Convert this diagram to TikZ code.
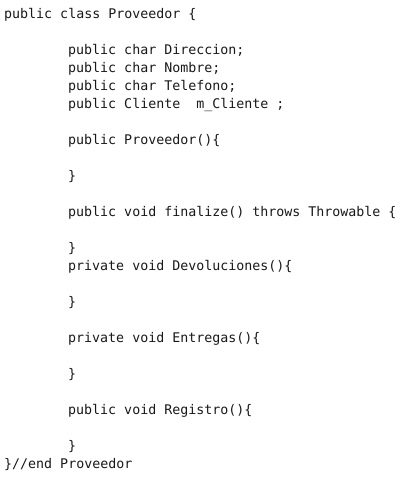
\documentclass[tikz,border=0pt]{standalone}
\usepackage{fontspec}
\setmonofont{DejaVu Sans Mono}
\begin{document}
\begin{tikzpicture}[x=1pt,y=1pt,
  code/.style={anchor=base west,inner sep=0pt,font=\ttfamily\fontsize{13.3}{16}\selectfont,text=black!90}]
\fill[white] (0,0) rectangle (408,-482);
\useasboundingbox (0,0) rectangle (408,-482);
\def\top{4}
\def\ind{68}
\node[code] (l0)  at (\top,-18) {public class Proveedor \{};
\node[code] (l2)  at (\ind,-54) {public char Direccion;};
\node[code] (l3)  at (\ind,-72) {public char Nombre;};
\node[code] (l4)  at (\ind,-90) {public char Telefono;};
\node[code] (l5)  at (\ind,-108) {public Cliente\ \ m\_Cliente\ ;};
\node[code] (l7)  at (\ind,-144) {public Proveedor()\{};
\node[code] (l9)  at (\ind,-180) {\}};
\node[code] (l11) at (\ind,-216) {public void finalize() throws Throwable \{};
\node[code] (l13) at (\ind,-252) {\}};
\node[code] (l14) at (\ind,-270) {private void Devoluciones()\{};
\node[code] (l16) at (\ind,-306) {\}};
\node[code] (l18) at (\ind,-342) {private void Entregas()\{};
\node[code] (l20) at (\ind,-378) {\}};
\node[code] (l22) at (\ind,-414) {public void Registro()\{};
\node[code] (l24) at (\ind,-450) {\}};
\node[code] (l25) at (\top,-468) {\}//end Proveedor};
\end{tikzpicture}
\end{document}
